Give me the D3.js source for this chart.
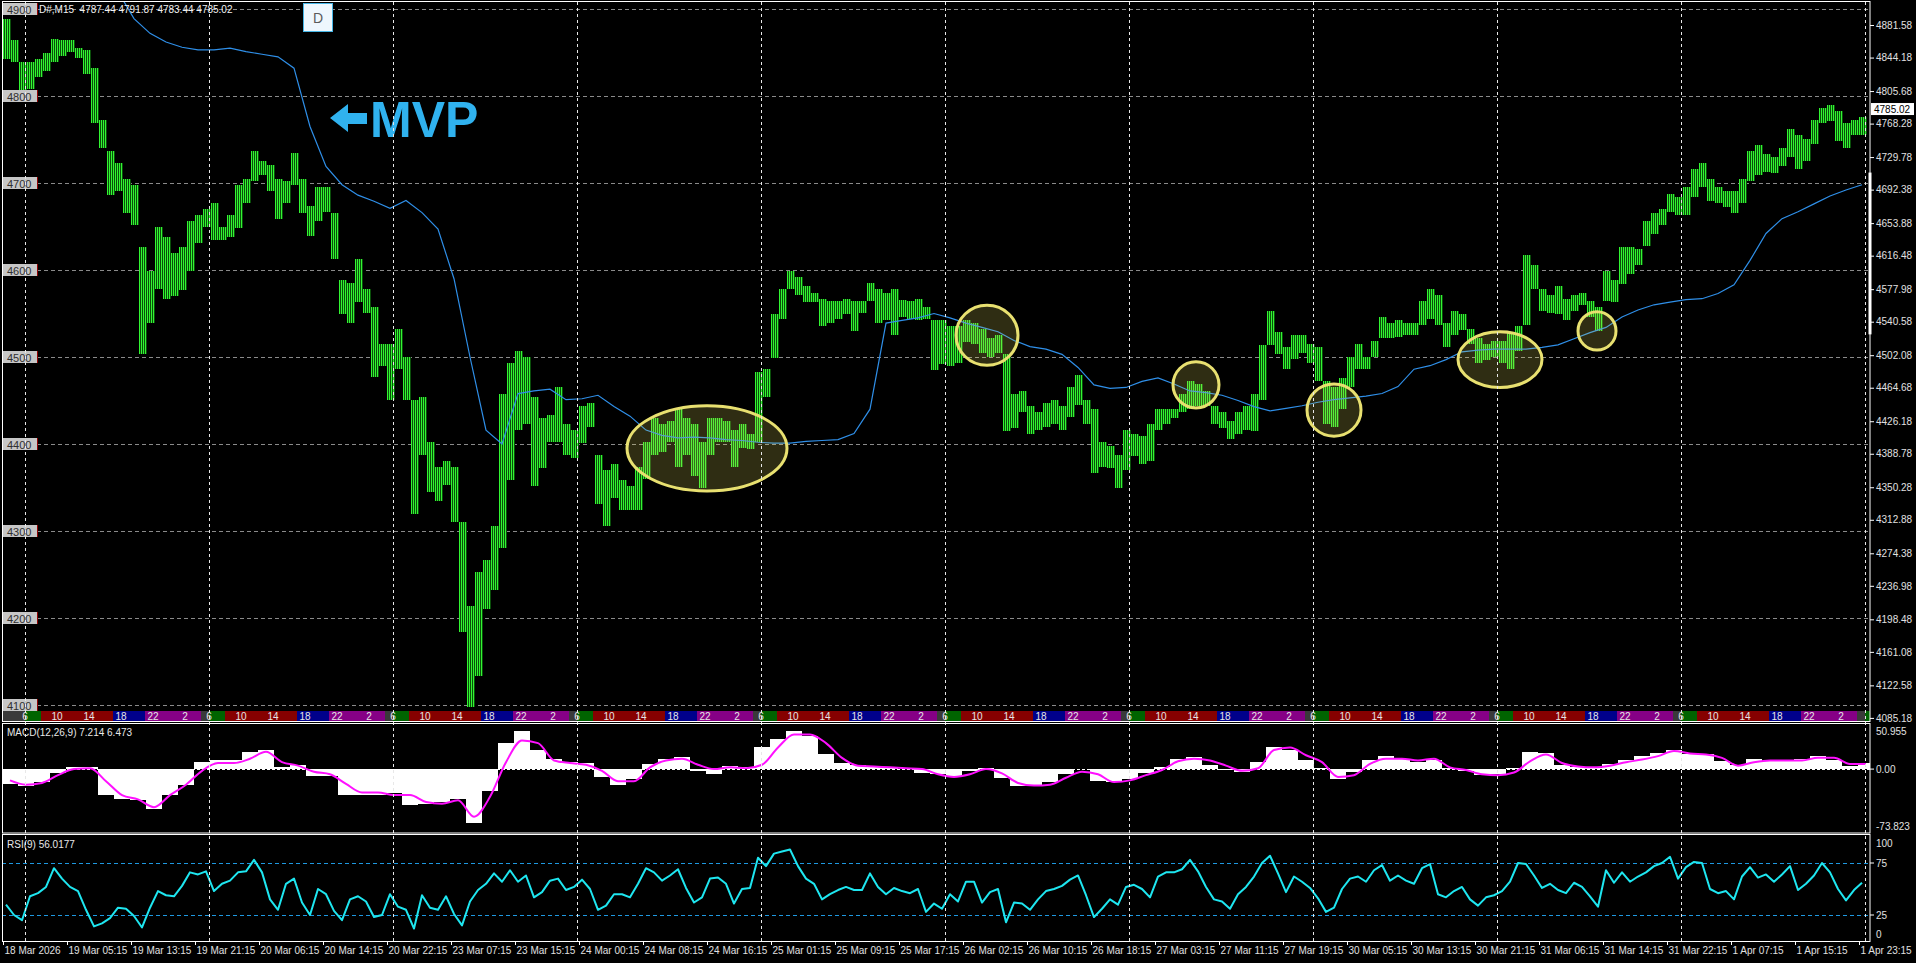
<!DOCTYPE html>
<html><head><meta charset="utf-8">
<script src="https://cdn.jsdelivr.net/npm/d3@7"></script>
<style>
html,body{margin:0;padding:0;background:#000;overflow:hidden}
svg{display:block}
text{font-family:"Liberation Sans",Arial,sans-serif}
</style></head><body>
<svg id="c" width="1916" height="963"></svg>
<script>
// ---------------- DATA ----------------
// Hourly high / low of the M15 price bars (233 hours, 18 Mar 21:15 -> 1 Apr 23:45)
const hourHigh = [
4889,4864,4839,4839,4843,4850,4866,4864,4864,4855,
4853,4832,4772,4737,4723,4705,4698,4627,4599,4649,
4638,4620,4627,4656,4663,4670,4677,4650,4663,4698,
4705,4737,4725,4721,4705,4702,4735,4705,4673,4695,
4695,4666,4589,4585,4613,4578,4557,4515,4515,4532,
4500,4451,4454,4402,4373,4380,4373,4310,4214,4253,
4267,4306,4458,4493,4507,4500,4454,4430,4433,4465,
4423,4416,4444,4447,4387,4370,4377,4359,4352,4373,
4402,4430,4423,4426,4440,4430,4423,4402,4430,4430,
4426,4416,4423,4412,4483,4486,4550,4578,4599,4592,
4582,4574,4567,4564,4564,4567,4564,4564,4585,4578,
4574,4578,4565,4564,4567,4557,4543,4543,4536,4536,
4543,4539,4532,4522,4525,4504,4458,4461,4444,4437,
4447,4451,4444,4465,4479,4451,4440,4402,4398,4387,
4416,4412,4409,4423,4440,4440,4440,4458,4472,4469,
4461,4444,4437,4426,4437,4444,4458,4514,4553,4529,
4511,4525,4525,4515,4511,4472,4465,4476,4500,4515,
4500,4518,4546,4539,4543,4539,4539,4564,4578,4571,
4539,4553,4550,4532,4522,4515,4518,4518,4529,4536,
4617,4606,4578,4571,4582,4567,4571,4574,4564,4557,
4599,4589,4627,4627,4624,4656,4666,4670,4687,4684,
4695,4716,4723,4705,4695,4691,4691,4705,4737,4744,
4733,4730,4740,4762,4755,4751,4772,4786,4790,4783,
4769,4772,4776];
const hourLow = [
4843,4839,4805,4808,4822,4829,4839,4846,4850,4843,
4825,4769,4740,4687,4691,4666,4652,4504,4539,4578,
4567,4571,4578,4599,4631,4649,4635,4635,4638,4649,
4677,4702,4709,4691,4659,4677,4698,4666,4638,4656,
4666,4613,4550,4539,4564,4550,4476,4490,4451,4486,
4451,4320,4387,4345,4334,4352,4310,4183,4098,4133,
4211,4232,4281,4359,4416,4423,4352,4373,4402,4402,
4387,4384,4402,4419,4331,4306,4338,4324,4324,4324,
4359,4387,4391,4402,4373,4387,4363,4349,4387,4402,
4402,4373,4395,4395,4402,4454,4500,4543,4578,4571,
4564,4564,4536,4539,4543,4550,4529,4550,4564,4539,
4543,4525,4546,4543,4543,4543,4486,4493,4490,4493,
4518,4515,4504,4500,4504,4416,4419,4437,4412,4416,
4419,4423,4416,4430,4444,4423,4366,4373,4373,4349,
4370,4387,4377,4380,4416,4423,4430,4437,4440,4444,
4444,4423,4419,4405,4412,4416,4416,4451,4514,4504,
4486,4497,4504,4493,4472,4423,4419,4440,4465,4486,
4486,4500,4522,4522,4523,4525,4525,4536,4543,4536,
4511,4525,4532,4515,4493,4497,4500,4493,4486,4507,
4536,4578,4553,4550,4550,4543,4553,4560,4546,4529,
4564,4564,4585,4596,4606,4627,4642,4652,4666,4663,
4663,4684,4695,4680,4677,4673,4666,4677,4702,4709,
4712,4712,4719,4730,4716,4726,4744,4769,4772,4748,
4740,4755,4755];
// MVP line, one value every 2 hours (null = not drawn)
const mvp2h = [
null,null,null,null,null,null,null,4920,4889,4872,
4862,4856,4853,4853,4855,4851,4848,4845,4832,4765,
4719,4698,4686,4679,4671,4680,4666,4647,4590,4500,
4416,4400,4458,4461,4463,4451,4452,4456,4443,4432,
4416,4410,4407,4408,4407,4405,4404,4402,4401,4401,
4403,4404,4405,4412,4440,4539,4542,4545,4550,4545,
4539,4534,4529,4519,4512,4509,4503,4488,4468,4464,
4465,4472,4476,4469,4461,4459,4456,4450,4443,4438,
4441,4444,4448,4451,4453,4455,4458,4466,4486,4490,
4497,4506,4508,4509,4509,4509,4511,4514,4521,4528,
4534,4546,4554,4560,4563,4566,4567,4573,4583,4611,
4642,4659,4667,4676,4685,4692,4698];
// MACD(12,26,9) main (histogram) and signal, every 2 hours
const macdHist2h = [
-17,-19,-15,-4,3,2,-30,-35,-36,-46,
-30,-18,8,10,10,20,22,3,5,-8,
-8,-30,-30,-30,-28,-42,-40,-38,-35,-62,
-25,30,44,22,12,8,7,-9,-18,-12,
6,12,14,-2,-6,4,2,25,35,44,
38,18,7,5,3,2,0,-5,-6,-9,
-2,1,-10,-20,-19,-15,-6,0,-14,-15,
-11,-5,3,12,14,5,-1,-3,8,26,
22,10,1,-11,-3,10,15,12,8,10,
1,-2,-7,-6,1,20,19,5,2,1,
6,11,15,19,22,17,17,9,5,12,
9,9,12,15,10,4,7];
const macdSignal2h = [
-13,-18,-16,-7,0,1,-14,-30,-35,-44,
-30,-18,-2,7,7,12,20,8,4,-3,
-6,-17,-27,-27,-30,-30,-38,-40,-36,-55,
-32,8,33,30,10,7,5,-2,-14,-14,
2,10,12,5,0,2,1,5,25,40,
40,30,13,4,3,2,1,0,-6,-9,
-6,0,-5,-16,-19,-18,-10,-3,-6,-15,
-13,-7,-1,9,12,10,4,-2,1,22,
25,16,8,-9,-7,6,12,12,10,12,
2,-1,-6,-7,-4,9,17,7,3,2,
4,8,11,15,21,18,17,13,4,8,
10,10,10,13,13,6,6];
// RSI(9), hourly
const rsiHourly = [
35,25,20,43,46,52,70,60,52,48,
30,14,17,22,32,31,24,13,32,48,
44,43,53,66,64,67,48,55,58,66,
67,78,66,40,30,55,60,37,25,50,
45,29,20,40,43,38,23,25,45,33,
30,12,44,32,30,43,26,15,38,49,
55,65,57,68,57,63,42,47,58,60,
49,52,59,50,30,34,45,45,42,55,
70,66,58,63,69,51,37,42,60,61,
55,36,50,51,80,72,84,86,88,72,
60,55,40,45,49,52,49,49,65,52,
45,51,48,46,50,28,36,31,45,38,
57,57,37,47,50,18,37,36,30,40,
48,50,53,59,63,44,23,31,40,35,
52,54,50,42,62,66,66,69,78,67,
52,40,38,31,45,52,62,75,82,65,
47,62,57,51,41,28,32,50,60,62,
57,68,73,58,63,58,55,70,74,45,
42,48,52,40,34,42,44,48,57,75,
74,63,51,55,49,46,56,52,43,33,
68,56,66,57,62,66,72,75,81,60,
71,76,75,50,46,48,40,62,71,61,
64,57,64,72,49,55,63,75,66,50,
39,49,56];
const timeLabels = ["18 Mar 2026","19 Mar 05:15","19 Mar 13:15","19 Mar 21:15","20 Mar 06:15","20 Mar 14:15",
"20 Mar 22:15","23 Mar 07:15","23 Mar 15:15","24 Mar 00:15","24 Mar 08:15","24 Mar 16:15","25 Mar 01:15",
"25 Mar 09:15","25 Mar 17:15","26 Mar 02:15","26 Mar 10:15","26 Mar 18:15","27 Mar 03:15","27 Mar 11:15",
"27 Mar 19:15","30 Mar 05:15","30 Mar 13:15","30 Mar 21:15","31 Mar 06:15","31 Mar 14:15","31 Mar 22:15",
"1 Apr 07:15","1 Apr 15:15","1 Apr 23:15"];
const priceTicks = [4881.58,4844.18,4805.68,4768.28,4729.78,4692.38,4653.88,4616.48,4577.98,4540.58,4502.08,
4464.68,4426.18,4388.78,4350.28,4312.88,4274.38,4236.98,4198.48,4161.08,4122.58,4085.18];
const levelLines = [4900,4800,4700,4600,4500,4400,4300,4200,4100];
const sessionHourLabels = ["6","10","14","18","22","2"];
const sessionColors = ["#006400","#860000","#00008b","#860086","#3a3a3a"];
const sessionBarEdges = [0,8,44,60,88,92];   // M15 bars from day start
const dayStartBars = [11,103,195,287,379,471,563,655,747,839,931];
const zones = [ // highlighted areas: centre bar, centre price, half width (bars), half height (price)
 {bar:352, price:4395, rb:40, rp:49},
 {bar:492, price:4525, rb:15.5, rp:34.5},
 {bar:596.5, price:4468, rb:11.5, rp:26.5},
 {bar:665.5, price:4439, rb:13.5, rp:30},
 {bar:748.5, price:4497, rb:21, rp:32},
 {bar:797, price:4530, rb:9.5, rp:22}];
const lastQuote = {open:4787.44, high:4791.87, low:4783.44, close:4785.02};
const macdLast = [7.214, 6.473];
const rsiLast = 56.0177;
const macdRange = [-73.823, 50.955];
const sideMarker = [4712, 4526];

// ---------------- LAYOUT ----------------
const W = 1916, H = 963, L = 2, R = 1870;
const svg = d3.select("#c");
svg.append("rect").attr("width", W).attr("height", H).attr("fill", "#000");

const xBar = d3.scaleLinear().domain([0, 931]).range([3, 1865]);
const yPrice = d3.scaleLinear().domain([4100, 4900]).range([705, 9]);
const yMacd = d3.scaleLinear().domain(macdRange).range([833, 725]);
const yRsi = d3.scaleLinear().domain([0, 100]).range([941, 837]);

const defs = svg.append("defs");
defs.append("clipPath").attr("id", "clipMain").append("rect").attr("x", L).attr("y", 2).attr("width", R - L).attr("height", 719);
defs.append("clipPath").attr("id", "clipMacd").append("rect").attr("x", L).attr("y", 724).attr("width", R - L).attr("height", 108);
defs.append("clipPath").attr("id", "clipRsi").append("rect").attr("x", L).attr("y", 835).attr("width", R - L).attr("height", 106);

const main = svg.append("g").attr("clip-path", "url(#clipMain)");

// horizontal level lines
main.selectAll("line.lvl").data(levelLines).join("line").attr("class", "lvl")
  .attr("x1", 37).attr("x2", R).attr("y1", d => Math.round(yPrice(d)) + 0.5).attr("y2", d => Math.round(yPrice(d)) + 0.5)
  .attr("stroke", "#8a8a8a").attr("stroke-dasharray", "4,3").attr("stroke-width", 1);

// price bars: faint hour-range underlay + the four M15 bar strokes of every hour
const barG = main.append("g").attr("shape-rendering", "crispEdges");
barG.selectAll("rect.tk").data(hourHigh).join("rect").attr("class", "tk")
  .attr("x", (d, k) => Math.round(xBar(4 * k)))
  .attr("width", 8)
  .attr("y", d => Math.round(yPrice(d)))
  .attr("height", (d, k) => Math.max(1, Math.round(yPrice(hourLow[k]) - yPrice(d))))
  .attr("fill", "#0a4f0a");
const subBars = [];
hourHigh.forEach((hi, k) => { for (let i = 0; i < 4; i++) subBars.push({b: 4 * k + i, hi, lo: hourLow[k]}); });
barG.selectAll("rect.br").data(subBars).join("rect").attr("class", "br")
  .attr("x", d => Math.round(xBar(d.b)))
  .attr("width", 1)
  .attr("y", d => Math.round(yPrice(d.hi)))
  .attr("height", d => Math.max(1, Math.round(yPrice(d.lo) - yPrice(d.hi))))
  .attr("fill", "#32f532");

// MVP line
main.append("path").datum(mvp2h)
  .attr("d", d3.line().defined(d => d != null).x((d, j) => xBar(8 * j + 1.5)).y(d => yPrice(d)))
  .attr("fill", "none").attr("stroke", "#2f8fe8").attr("stroke-width", 1.2);

// highlight ellipses
main.selectAll("ellipse").data(zones).join("ellipse")
  .attr("cx", d => xBar(d.bar)).attr("cy", d => yPrice(d.price))
  .attr("rx", d => xBar(d.bar + d.rb) - xBar(d.bar))
  .attr("ry", d => yPrice(d.price - d.rp) - yPrice(d.price))
  .attr("fill", "rgba(235,225,95,0.2)").attr("stroke", "#e8e070").attr("stroke-width", 3);

// session strip
const stripY = 711, stripH = 9.5;
const strip = main.append("g").attr("shape-rendering", "crispEdges");
const blocks = [{s: 0, e: dayStartBars[0], c: sessionColors[4]}];
dayStartBars.forEach(D => {
  for (let i = 0; i < sessionColors.length; i++)
    blocks.push({s: D + sessionBarEdges[i], e: D + sessionBarEdges[i + 1], c: sessionColors[i]});
});
strip.selectAll("rect").data(blocks).join("rect")
  .attr("x", d => xBar(d.s)).attr("width", d => xBar(d.e) - xBar(d.s))
  .attr("y", stripY).attr("height", stripH).attr("fill", d => d.c);
const hourLbls = [];
dayStartBars.forEach(D => sessionHourLabels.forEach((t, m) => {
  const b = D + 16 * m; if (xBar(b) < R - 8) hourLbls.push({b, t});
}));
main.selectAll("text.hr").data(hourLbls).join("text").attr("class", "hr")
  .attr("x", d => xBar(d.b)).attr("y", stripY + 8.5).attr("text-anchor", "middle")
  .attr("font-size", 10).attr("fill", "#e6e6e6").text(d => d.t);

// level labels on the left
const lvlG = svg.append("g");
levelLines.forEach(v => {
  const y = Math.round(yPrice(v));
  lvlG.append("rect").attr("x", 3).attr("y", y - 6).attr("width", 34).attr("height", 12).attr("fill", "#c6c6c6");
  lvlG.append("line").attr("x1", 37.5).attr("x2", 37.5).attr("y1", y - 6).attr("y2", y + 6).attr("stroke", "#900000");
  lvlG.append("text").attr("x", 7).attr("y", y + 4.5).attr("font-size", 11).attr("fill", "#303030").text(v);
});

// header
svg.append("text").attr("x", 39).attr("y", 13).attr("font-size", 10).attr("fill", "#f0f0f0")
  .attr("xml:space", "preserve")
  .text(`D#,M15  ${lastQuote.open.toFixed(2)} ${lastQuote.high.toFixed(2)} ${lastQuote.low.toFixed(2)} ${lastQuote.close.toFixed(2)}`);
svg.append("rect").attr("x", 303.5).attr("y", 3.5).attr("width", 29).attr("height", 28)
  .attr("fill", "#eef7fd").attr("stroke", "#47b6e6").attr("stroke-width", 1);
svg.append("text").attr("x", 318).attr("y", 23).attr("text-anchor", "middle").attr("font-size", 14).attr("fill", "#5a5a5a").text("D");

// MVP annotation
svg.append("path").attr("d", "M330,118 L348,104 L348,113 L367,113 L367,124 L348,124 L348,132 Z").attr("fill", "#30b2ef");
svg.append("text").attr("x", 370).attr("y", 137).attr("font-size", 50).attr("font-weight", "bold")
  .attr("fill", "#30b2ef").text("MVP");

// ---------------- MACD panel ----------------
const mg = svg.append("g").attr("clip-path", "url(#clipMacd)");
mg.append("line").attr("x1", L).attr("x2", R).attr("y1", Math.round(yMacd(0)) + 0.5).attr("y2", Math.round(yMacd(0)) + 0.5)
  .attr("stroke", "#fff").attr("stroke-dasharray", "3,2");
mg.append("g").attr("shape-rendering", "crispEdges").selectAll("rect").data(macdHist2h).join("rect")
  .attr("x", (d, j) => xBar(8 * j) - 1).attr("width", 16)
  .attr("y", d => Math.min(yMacd(d), yMacd(0))).attr("height", d => Math.abs(yMacd(d) - yMacd(0)))
  .attr("fill", "#fff");
mg.append("path").datum(macdSignal2h)
  .attr("d", d3.line().x((d, j) => xBar(8 * j + 3.5)).y(d => yMacd(d)).curve(d3.curveMonotoneX))
  .attr("fill", "none").attr("stroke", "#ff10ff").attr("stroke-width", 2);
svg.append("text").attr("x", 7).attr("y", 736).attr("font-size", 10).attr("fill", "#e8e8e8")
  .text(`MACD(12,26,9) ${macdLast[0].toFixed(3)} ${macdLast[1].toFixed(3)}`);

// ---------------- RSI panel ----------------
const rg = svg.append("g").attr("clip-path", "url(#clipRsi)");
[75, 25].forEach(v => rg.append("line").attr("x1", L).attr("x2", R)
  .attr("y1", Math.round(yRsi(v)) + 0.5).attr("y2", Math.round(yRsi(v)) + 0.5)
  .attr("stroke", "#1e98e0").attr("stroke-dasharray", "4,3"));
rg.append("path").datum(rsiHourly)
  .attr("d", d3.line().x((d, k) => xBar(4 * k + 1.5)).y(d => yRsi(d)))
  .attr("fill", "none").attr("stroke", "#1ee6f0").attr("stroke-width", 2).attr("stroke-linejoin", "round");
svg.append("text").attr("x", 7).attr("y", 848).attr("font-size", 10).attr("fill", "#e8e8e8")
  .text(`RSI(9) ${rsiLast.toFixed(4)}`);

// day separators
svg.append("g").selectAll("line").data(dayStartBars).join("line")
  .attr("x1", d => Math.round(xBar(d)) + 0.5).attr("x2", d => Math.round(xBar(d)) + 0.5)
  .attr("y1", 2).attr("y2", 941).attr("stroke", "#e8e8e8").attr("stroke-dasharray", "3,3");

// panel borders
const borders = [[1.5, 721.5], [723.5, 833], [834.5, 941.5]];
svg.append("g").selectAll("rect").data(borders).join("rect")
  .attr("x", L + 0.5).attr("y", d => d[0]).attr("width", R - L - 0.5).attr("height", d => d[1] - d[0])
  .attr("fill", "none").attr("stroke", "#fff").attr("stroke-width", 1);

// right price axis
const yAxis = svg.append("g").attr("transform", `translate(${R},0)`)
  .call(d3.axisRight(yPrice).tickValues(priceTicks).tickSize(4).tickFormat(d3.format(".2f")));
yAxis.select(".domain").remove();
yAxis.selectAll("line").attr("stroke", "#fff");
yAxis.selectAll("text").attr("fill", "#e0e0e0").attr("font-size", 10).attr("font-family", "Liberation Sans, Arial, sans-serif").attr("x", 6);

// side marker on the price scale
svg.append("rect").attr("x", R - 1.5).attr("y", yPrice(sideMarker[0])).attr("width", 3)
  .attr("height", yPrice(sideMarker[1]) - yPrice(sideMarker[0])).attr("fill", "#fff");

// current price tag
const py = yPrice(lastQuote.close);
svg.append("rect").attr("x", R + 1).attr("y", py - 6).attr("width", 43).attr("height", 12).attr("fill", "#fff");
svg.append("text").attr("x", R + 4).attr("y", py + 4).attr("font-size", 10).attr("fill", "#000").text(lastQuote.close.toFixed(2));

// MACD & RSI scale labels
const sideLbls = [
  {y: yMacd(macdRange[1]) + 10, t: macdRange[1].toFixed(3)},
  {y: yMacd(0) + 4, t: "0.00"},
  {y: yMacd(macdRange[0]) - 3, t: macdRange[0].toFixed(3)},
  {y: yRsi(100) + 10, t: "100"},
  {y: yRsi(75) + 4, t: "75"},
  {y: yRsi(25) + 4, t: "25"},
  {y: yRsi(0) - 3, t: "0"}];
svg.append("g").selectAll("text").data(sideLbls).join("text")
  .attr("x", R + 6).attr("y", d => d.y).attr("font-size", 10).attr("fill", "#e0e0e0").text(d => d.t);
svg.append("g").selectAll("line").data([yMacd(0), yRsi(75), yRsi(25)]).join("line")
  .attr("x1", R).attr("x2", R + 4).attr("y1", d => d).attr("y2", d => d).attr("stroke", "#fff");

// time axis
const tickBars = timeLabels.map((t, i) => i * 32);
const xAxis = svg.append("g").attr("transform", "translate(0,941)")
  .call(d3.axisBottom(xBar).tickValues(tickBars).tickSize(4).tickFormat((d, i) => timeLabels[i]));
xAxis.select(".domain").remove();
xAxis.selectAll("line").attr("stroke", "#fff");
xAxis.selectAll("text").attr("fill", "#e0e0e0").attr("font-size", 10).attr("font-family", "Liberation Sans, Arial, sans-serif")
  .attr("text-anchor", "start").attr("dx", 1).attr("y", 6);
</script>
</body></html>
